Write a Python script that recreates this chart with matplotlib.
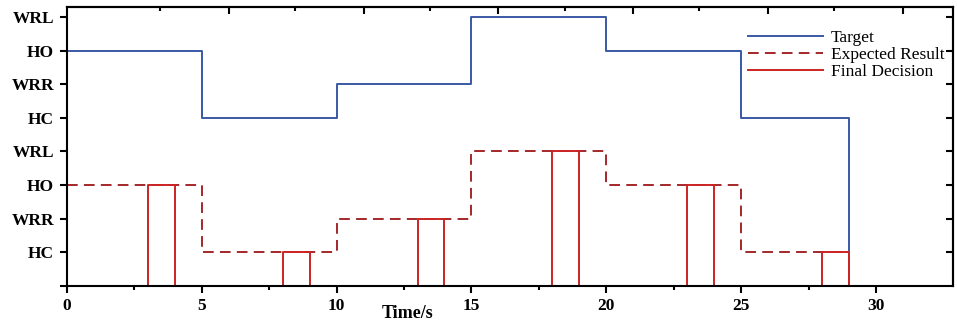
import numpy as np
import matplotlib.pyplot as plt
from matplotlib.ticker import MultipleLocator, FixedLocator

# Step data (time in s, state level)
# levels: 1..4 = HC, WRR, HO, WRL (lower band), 5..8 = same states (upper band)
target_t = [0, 5, 10, 15, 20, 25, 29]
target_y = [7, 5, 6, 8, 7, 5, 0]

expected_t = [0, 5, 10, 15, 20, 25, 29]
expected_y = [3, 1, 2, 4, 3, 1, 1]

decision_t = [0, 3, 4, 8, 9, 13, 14, 18, 19, 23, 24, 28, 29]
decision_y = [0, 3, 0, 1, 0, 2, 0, 4, 0, 3, 0, 1, 0]

ytick_pos = [1, 2, 3, 4, 5, 6, 7, 8]
ytick_labels = ['HC', 'WRR', 'HO', 'WRL', 'HC', 'WRR', 'HO', 'WRL']

plt.rcParams['font.family'] = ['Liberation Serif', 'DejaVu Serif']

fig = plt.figure(figsize=(9.57, 3.24), dpi=100)
ax = fig.add_axes([0.0697, 0.118, 0.926, 0.859])

ax.plot(target_t, target_y, drawstyle='steps-post', color='#3a58a4', lw=1.4,
        label='Target')
ax.plot(expected_t, expected_y, drawstyle='steps-post', color='#a3282a', lw=1.4,
        dashes=(5.5, 3.2), label='Expected Result')
ax.plot(decision_t, decision_y, drawstyle='steps-post', color='#cc2424', lw=1.4,
        label='Final Decision')

ax.set_xlim(0, 32.84)
ax.set_ylim(0, 8.29)

ax.xaxis.set_major_locator(MultipleLocator(5))
ax.xaxis.set_minor_locator(FixedLocator([2.5, 7.5, 12.5, 17.5, 22.5, 27.5]))
ax.set_yticks(ytick_pos)
ax.set_yticklabels(ytick_labels)
ax.yaxis.set_minor_locator(FixedLocator([0]))

ax.tick_params(axis='both', which='major', direction='out', length=5, width=1.5,
               labelsize=12.5, pad=4)
ax.tick_params(axis='both', which='minor', direction='out', length=3, width=1.5)
ax.tick_params(axis='y', which='minor', length=5)
for lab in ax.get_xticklabels() + ax.get_yticklabels():
    lab.set_fontweight('bold')

# right axis: inward ticks at the state levels, no labels
right = ax.secondary_yaxis('right')
right.set_yticks(ytick_pos)
right.tick_params(direction='in', length=5, width=1.5, labelright=False)
right.spines['right'].set_linewidth(1.5)

# top axis has its own (shifted) ticks, no labels
top = ax.secondary_xaxis('top')
top.set_xticks([6, 11, 16, 21, 26, 31])
top.xaxis.set_minor_locator(FixedLocator([3.45, 8.45, 13.45, 18.45, 23.45, 28.45]))
top.tick_params(which='major', direction='in', length=5, width=1.5, labeltop=False)
top.tick_params(which='minor', direction='in', length=3, width=1.5)
top.spines['top'].set_linewidth(1.5)

for s in ax.spines.values():
    s.set_linewidth(1.5)
    s.set_zorder(5)

ax.text(0.385, -0.10, 'Time/s', transform=ax.transAxes, ha='center', va='center',
        fontsize=13, fontweight='bold')

ax.legend(loc='upper left', bbox_to_anchor=(0.769, 0.918), frameon=False,
          fontsize=12.5, handlelength=4.3, handletextpad=0.45, labelspacing=0.05,
          borderpad=0, borderaxespad=0)

fig.savefig('out.png', dpi=100)
